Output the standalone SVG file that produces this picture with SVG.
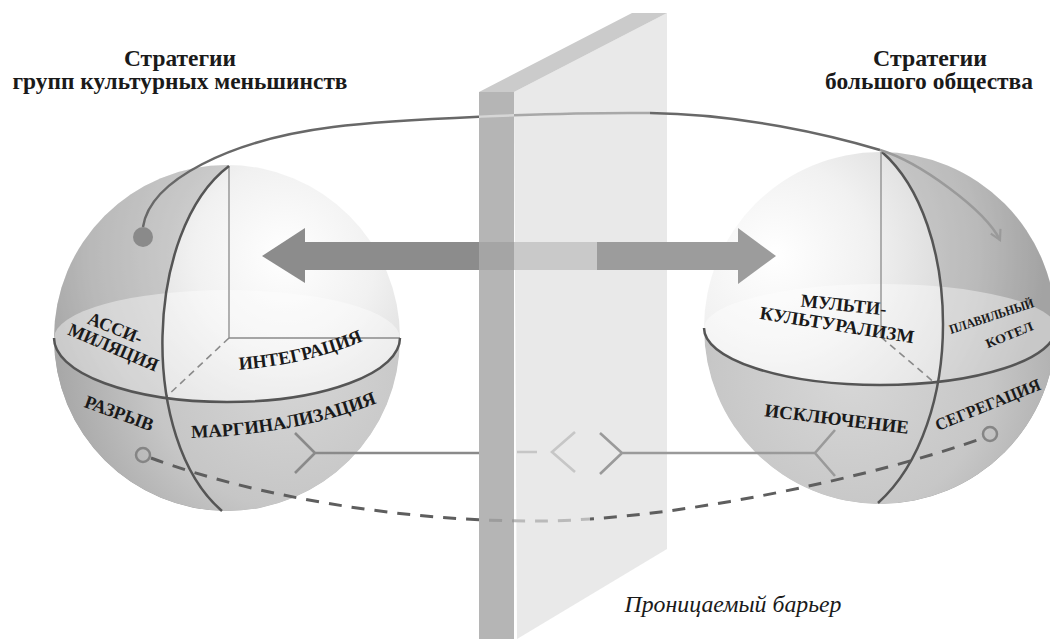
<svg xmlns="http://www.w3.org/2000/svg" xmlns:xlink="http://www.w3.org/1999/xlink" width="1050" height="639" viewBox="0 0 1050 639">
<style>
.lbl{font-weight:bold;font-size:18.5px;fill:#1a1a1a}
.sm{font-size:13px}
.ttl{font-weight:bold;font-size:23px;fill:#1a1a1a}
.cap{font-style:italic;font-size:23px;fill:#1a1a1a}
.mer{fill:none;stroke:#555;stroke-width:2.5}
.ax{fill:none;stroke:#8a8a8a;stroke-width:1.3}
.axd{fill:none;stroke:#8a8a8a;stroke-width:1.6;stroke-dasharray:7 5}
.orb{fill:none;stroke-width:2.5}
.dsh{fill:none;stroke-width:3;stroke-dasharray:13 10}
.con{fill:none;stroke-width:2.6;stroke-linejoin:miter}
</style>
<defs>
<radialGradient id="gL" gradientUnits="userSpaceOnUse" cx="285" cy="255" r="260">
<stop offset="0" stop-color="#ffffff"/><stop offset="0.35" stop-color="#f1f1f1"/><stop offset="0.75" stop-color="#d4d4d4"/><stop offset="1" stop-color="#b4b4b4"/>
</radialGradient>
<radialGradient id="gLlow" gradientUnits="userSpaceOnUse" cx="290" cy="370" r="230">
<stop offset="0" stop-color="#d6d6d6"/><stop offset="0.6" stop-color="#c6c6c6"/><stop offset="1" stop-color="#a8a8a8"/>
</radialGradient>
<radialGradient id="gR" gradientUnits="userSpaceOnUse" cx="775" cy="255" r="270">
<stop offset="0" stop-color="#ffffff"/><stop offset="0.35" stop-color="#f1f1f1"/><stop offset="0.75" stop-color="#d4d4d4"/><stop offset="1" stop-color="#b4b4b4"/>
</radialGradient>
<radialGradient id="gRlow" gradientUnits="userSpaceOnUse" cx="850" cy="375" r="230">
<stop offset="0" stop-color="#d7d7d7"/><stop offset="0.6" stop-color="#c7c7c7"/><stop offset="1" stop-color="#aaaaaa"/>
</radialGradient>
<clipPath id="clipL"><circle cx="227" cy="338" r="173"/></clipPath>
<clipPath id="clipR"><circle cx="880" cy="328" r="176"/></clipPath>
<clipPath id="cxL"><rect x="0" y="0" width="479" height="639"/></clipPath>
<clipPath id="cxF"><rect x="479" y="0" width="35" height="639"/></clipPath>
<clipPath id="cxS"><rect x="514" y="0" width="136" height="639"/></clipPath>
<clipPath id="cxR"><rect x="650" y="0" width="400" height="639"/></clipPath>
<clipPath id="dxS"><rect x="514" y="0" width="76" height="639"/></clipPath>
<clipPath id="dxR"><rect x="590" y="0" width="460" height="639"/></clipPath>
<path id="orbitTop" d="M143,227 C150,180 230,140 333,127 C395,119 560,112 650,113 C740,114 830,135 880,150"/>
<path id="orbitBot" d="M151,458 C250,495 400,522 540,521 C680,520 880,475 983,438"/>
<path id="pMarg" d="M186,438 Q295,436 382,401"/>
<path id="pInt" d="M234,370 Q305,366 368,339"/>
<marker id="vArr" viewBox="0 0 12 12" refX="10" refY="6" markerWidth="13" markerHeight="13" markerUnits="userSpaceOnUse" orient="auto">
<path d="M1,1 L10,6 L1,11" fill="none" stroke="#9a9a9a" stroke-width="2"/>
</marker>
</defs>
<rect width="1050" height="639" fill="#ffffff"/>

<g id="title-left" font-family="'Liberation Serif', 'DejaVu Serif', serif">
<text class="ttl" font-family="Liberation Serif" x="180" y="66" text-anchor="middle" textLength="112" lengthAdjust="spacingAndGlyphs">Стратегии</text>
<text class="ttl" font-family="Liberation Serif" x="180" y="89" text-anchor="middle" textLength="335" lengthAdjust="spacingAndGlyphs">групп культурных меньшинств</text>
</g>
<g id="title-right" font-family="'Liberation Serif', 'DejaVu Serif', serif">
<text class="ttl" font-family="Liberation Serif" x="930" y="66" text-anchor="middle" textLength="114" lengthAdjust="spacingAndGlyphs">Стратегии</text>
<text class="ttl" font-family="Liberation Serif" x="929" y="89" text-anchor="middle" textLength="208" lengthAdjust="spacingAndGlyphs">большого общества</text>
</g>

<g id="sphere-left" font-family="'Liberation Serif', 'DejaVu Serif', serif">
<circle cx="227" cy="338" r="173" fill="url(#gL)"/>
<g clip-path="url(#clipL)">
<path d="M229,165 C144,230 139,440 222,511 L40,511 L40,160 Z" fill="#7a7a7a" opacity="0.3"/>
<path d="M54,338 A173,48 0 0 1 400,338 A173,64 0 0 1 54,338 Z" fill="#ffffff" opacity="0.4"/>
<path d="M54,338 A173,64 0 0 0 400,338 A173,173 0 0 1 54,338 Z" fill="url(#gLlow)"/>
</g>
<path class="ax" d="M229,166 V338 H400"/>
<path class="axd" d="M229,338 L166,397"/>
<path class="mer" d="M229,166 C144,230 139,440 222,511"/>
<path class="mer" d="M54,338 A173,64 0 0 0 400,338"/>
<text class="lbl" transform="translate(113,334) rotate(22)" text-anchor="middle" textLength="57" lengthAdjust="spacingAndGlyphs">АССИ-</text>
<text class="lbl" transform="translate(111,353) rotate(23)" text-anchor="middle" textLength="96" lengthAdjust="spacingAndGlyphs">МИЛЯЦИЯ</text>
<text class="lbl"><textPath href="#pInt" startOffset="50%" text-anchor="middle" textLength="128" lengthAdjust="spacingAndGlyphs">ИНТЕГРАЦИЯ</textPath></text>
<text class="lbl" transform="translate(117,419) rotate(20)" text-anchor="middle" textLength="72" lengthAdjust="spacingAndGlyphs">РАЗРЫВ</text>
<text class="lbl"><textPath href="#pMarg" startOffset="50%" text-anchor="middle" textLength="190" lengthAdjust="spacingAndGlyphs">МАРГИНАЛИЗАЦИЯ</textPath></text>
</g>

<g id="sphere-right" font-family="'Liberation Serif', 'DejaVu Serif', serif">
<circle cx="880" cy="328" r="176" fill="url(#gR)"/>
<g clip-path="url(#clipR)">
<path d="M882,152 C962,222 966,424 878,503 L1070,503 L1070,140 Z" fill="#777777" opacity="0.27"/>
<path d="M704,328 A176,44 0 0 1 1056,328 A176,57 0 0 1 704,328 Z" fill="#ffffff" opacity="0.4"/>
<path d="M704,328 A176,57 0 0 0 1056,328 A176,176 0 0 1 704,328 Z" fill="url(#gRlow)"/>
</g>
<path class="ax" d="M881,152 V337"/>
<path class="axd" d="M881,337 L936,384"/>
<path class="mer" d="M882,152 C962,222 966,424 878,503"/>
<path class="mer" d="M704,328 A176,57 0 0 0 1056,328"/>
<text class="lbl" transform="translate(843,311) rotate(6)" text-anchor="middle" textLength="86" lengthAdjust="spacingAndGlyphs">МУЛЬТИ-</text>
<text class="lbl" transform="translate(836,331) rotate(9)" text-anchor="middle" textLength="156" lengthAdjust="spacingAndGlyphs">КУЛЬТУРАЛИЗМ</text>
<text class="lbl sm" transform="translate(951,334) rotate(-18)" textLength="88" lengthAdjust="spacingAndGlyphs">ПЛАВИЛЬНЫЙ</text>
<text class="lbl sm" transform="translate(1011,339) rotate(-22)" text-anchor="middle" textLength="50" lengthAdjust="spacingAndGlyphs">КОТЕЛ</text>
<text class="lbl" transform="translate(836,425) rotate(7)" text-anchor="middle" textLength="145" lengthAdjust="spacingAndGlyphs">ИСКЛЮЧЕНИЕ</text>
<text class="lbl" style="font-size:17px" transform="translate(990,410) rotate(-22)" text-anchor="middle" textLength="112" lengthAdjust="spacingAndGlyphs">СЕГРЕГАЦИЯ</text>
</g>

<g id="barrier">
<polygon points="514,92 667,13 667,549 517,639" fill="#e9e9e9"/>
<polygon points="479,92 632,13 667,13 514,92" fill="#cbcbcb"/>
<rect x="479" y="92" width="35" height="547" fill="#b5b5b5"/>
</g>

<g id="caption" font-family="'Liberation Serif', 'DejaVu Serif', serif">
<text class="cap" font-family="Liberation Serif" x="733" y="612" text-anchor="middle" textLength="217" lengthAdjust="spacingAndGlyphs">Проницаемый барьер</text>
</g>

<g id="connectors">
<use href="#orbitTop" class="orb" stroke="#686868" clip-path="url(#cxL)"/>
<use href="#orbitTop" class="orb" stroke="#d6d6d6" clip-path="url(#cxF)"/>
<use href="#orbitTop" class="orb" stroke="#a8a8a8" clip-path="url(#cxS)"/>
<use href="#orbitTop" class="orb" stroke="#686868" clip-path="url(#cxR)"/>
<path class="orb" stroke="#9a9a9a" d="M880,150 C920,162 985,210 1000,240" marker-end="url(#vArr)"/>
<circle cx="143" cy="237" r="10" fill="#8a8a8a"/>
<use href="#orbitBot" class="dsh" stroke="#5e5e5e" clip-path="url(#cxL)"/>
<use href="#orbitBot" class="dsh" stroke="#9c9c9c" clip-path="url(#cxF)"/>
<use href="#orbitBot" class="dsh" stroke="#bababa" clip-path="url(#dxS)"/>
<use href="#orbitBot" class="dsh" stroke="#5e5e5e" clip-path="url(#dxR)"/>
<circle cx="143" cy="455" r="7" fill="none" stroke="#858585" stroke-width="2.5"/>
<circle cx="990" cy="434" r="7" fill="none" stroke="#858585" stroke-width="2.5"/>
<polygon points="305,228 262,256 305,283" fill="#8c8c8c"/>
<rect x="304" y="242" width="175" height="28" fill="#8c8c8c"/>
<rect x="479" y="242" width="35" height="28" fill="#a5a5a5"/>
<rect x="514" y="242" width="83" height="28" fill="#c9c9c9"/>
<rect x="597" y="242" width="142" height="28" fill="#9c9c9c"/>
<polygon points="738,228 776,256 738,284" fill="#9c9c9c"/>
<path class="con" stroke="#8a8a8a" d="M295,433 L315,453 L295,473 M315,453 H479"/>
<path class="con" stroke="#c6c6c6" d="M517,452 H537 M575,432 L552,452 L575,472"/>
<path class="con" stroke="#9a9a9a" d="M600,433 L622,453 L600,474 M622,453 H815 M835,430 L815,453 L835,476"/>
</g>
</svg>
